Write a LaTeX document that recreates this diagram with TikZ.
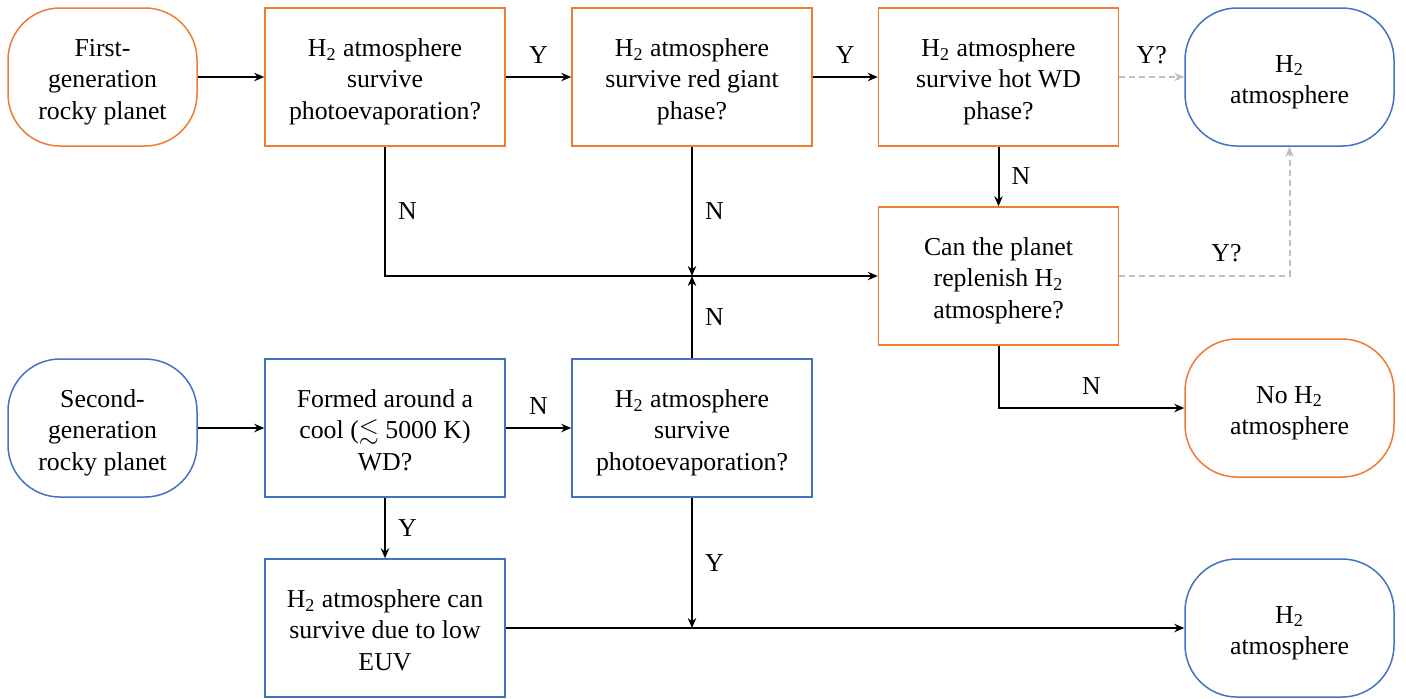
\documentclass[tikz,border=0pt]{standalone}
\usepackage{fontspec}
\setmainfont{Liberation Serif}
\usepackage{amssymb}
\usetikzlibrary{arrows.meta}
\definecolor{accOrange}{HTML}{ED7D31}
\definecolor{accBlue}{HTML}{4472C4}
\definecolor{hintGray}{HTML}{BFBFBF}
\newcommand{\Htwo}{H\textsubscript{2}}
% invisible struts: fixed height for the first line, fixed depth for the last
\newcommand{\lt}{\rule{0pt}{13.8pt}}
\newcommand{\lb}{\rule[-3pt]{0pt}{3pt}}
\begin{document}
\begin{tikzpicture}[x=0.5pt,y=-0.5pt,
  every node/.style={font=\fontsize{12.9}{15.75}\selectfont, align=center},
  boxbase/.style={draw, line width=0.75pt, minimum width=120pt, minimum height=69pt, inner sep=0pt},
  obox/.style={boxbase, draw=accOrange},
  bbox/.style={boxbase, draw=accBlue},
  oterm/.style={boxbase, draw=accOrange, rounded corners=26pt, minimum width=94.5pt},
  bterm/.style={boxbase, draw=accBlue, rounded corners=26pt, minimum width=94.5pt},
  bterm2/.style={bterm, minimum width=104.5pt},
  oterm2/.style={oterm, minimum width=104.5pt},
  flow/.style={line width=1pt, -{Stealth[length=5pt,width=4.2pt]}},
  hint/.style={line width=1pt, draw=hintGray, dashed, dash pattern=on 3pt off 2pt, -{Stealth[length=5pt,width=4.2pt]}},
  lbl/.style={inner sep=0pt}
]
\useasboundingbox (0,0) rectangle (1406,698);

% first row
\node[oterm] (first) at (102.5,77) {\lt First-\\generation\\rocky planet\lb};
\node[obox] (photoA) at (385,77) {\lt\Htwo{} atmosphere\\survive\\photoevaporation?\lb};
\node[obox] (giant) at (692,77) {\lt\Htwo{} atmosphere\\survive red giant\\phase?\lb};
\node[obox] (hotwd) at (998.5,77) {\lt\Htwo{} atmosphere\\survive hot WD\\phase?\lb};
\node[bterm2] (atmTop) at (1289.5,77) {\lt\Htwo\\atmosphere\lb};

% middle column
\node[obox] (replen) at (998.5,276) {\lt Can the planet\\replenish \Htwo\\atmosphere?\lb};
\node[oterm2] (noatm) at (1289.5,408) {\lt No \Htwo\\atmosphere\lb};

% second row
\node[bterm] (second) at (102.5,428) {\lt Second-\\generation\\rocky planet\lb};
\node[bbox] (coolwd) at (385,428) {\lt Formed around a\\cool ($\lesssim$ 5000 K)\\WD?\lb};
\node[bbox] (photoB) at (692,428) {\lt\Htwo{} atmosphere\\survive\\photoevaporation?\lb};

% bottom row
\node[bbox] (loweuv) at (385,628) {\lt\Htwo{} atmosphere can\\survive due to low\\EUV\lb};
\node[bterm2] (atmBot) at (1289.5,628) {\lt\Htwo\\atmosphere\lb};

% junctions
\coordinate (jN) at (692,276);
\coordinate (jY) at (692,628);

% arrows along the first row
\draw[flow] (first) -- (photoA);
\draw[flow] (photoA) -- node[lbl, above=6.5pt] {Y} (giant);
\draw[flow] (giant) -- node[lbl, above=6.5pt] {Y} (hotwd);
\draw[hint] (hotwd) -- node[lbl, above=6pt, text=black] {Y?} (atmTop);
\draw[flow] (hotwd) -- node[lbl, right=6pt] {N} (replen);

% failures feeding the replenish check
\draw[flow] (photoA.south) -- node[lbl, pos=0.5, right=6pt] {N} (photoA.south |- replen.west) -- (replen.west);
\draw[flow] (giant.south) -- node[lbl, right=6pt] {N} (jN);
\draw[flow] (photoB.north) -- node[lbl, right=6pt] {N} (jN);

% replenish outcomes
\draw[hint] (replen.east) -- node[lbl, above=6.5pt, text=black, pos=0.63] {Y?} (atmTop.south |- replen.east) -- (atmTop.south);
\draw[flow] (replen.south) |- node[lbl, pos=0.75, above=6.5pt] {N} (noatm.west);

% second-generation branch
\draw[flow] (second) -- (coolwd);
\draw[flow] (coolwd) -- node[lbl, above=6.5pt] {N} (photoB);
\draw[flow] (coolwd) -- node[lbl, right=6pt] {Y} (loweuv);
\draw[flow] (photoB.south) -- node[lbl, right=6pt] {Y} (jY);
\draw[flow] (loweuv.east) -- (atmBot.west);
\end{tikzpicture}
\end{document}
